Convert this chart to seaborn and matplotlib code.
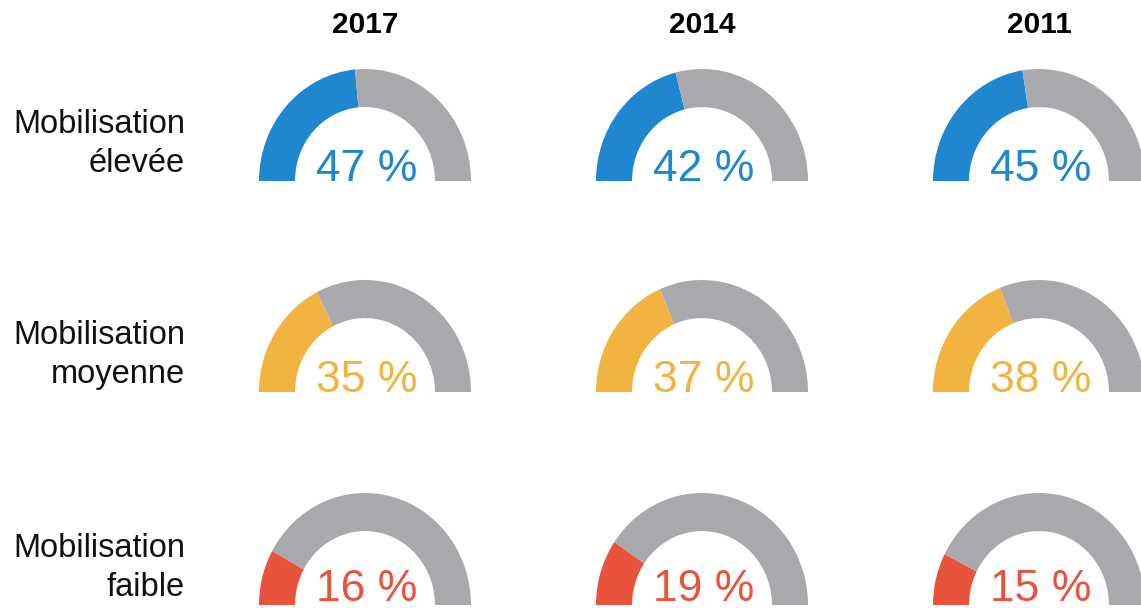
import seaborn as sns
from matplotlib import pyplot as plt

# values
years = ["2017", "2014", "2011"]
levels = ["Mobilisation\nélevée", "Mobilisation\nmoyenne", "Mobilisation\nfaible"]
eleve = [47, 42, 45]
moyenne = [35, 37, 38]
faible = [16, 19, 15]

colors = ["#1e87cf", "#f2b440", "#e9533b"]
gray = "#a8a9ac"

sns.set_theme(style="white")
plt.rcParams["font.family"] = ["Liberation Sans", "DejaVu Sans"]

W, H = 1141, 608
fig = plt.figure(figsize=(W / 100, H / 100), dpi=100)

col_x = [365, 702, 1039]     # gauge centres (px)
row_base = [181, 392, 605]   # gauge baselines (px from top)
R, RV = 106, 112             # half width / height of a gauge

rows = [eleve, moyenne, faible]
for r, (vals, col) in enumerate(zip(rows, colors)):
    for c, v in enumerate(vals):
        ax = fig.add_axes([(col_x[c] - R) / W, (H - row_base[r]) / H, 2 * R / W, RV / H])
        ax.pie([v, 100 - v, 100], colors=[col, gray, "none"], startangle=180,
               counterclock=False, radius=1,
               wedgeprops=dict(width=0.34, edgecolor="none", linewidth=0))
        ax.set_aspect("auto")
        ax.set_xlim(-1, 1)
        ax.set_ylim(0, 1)
        ax.axis("off")
        # last row sits on the bottom edge: lift its label a little
        ty = 0.035 if r == len(rows) - 1 else 0.0
        ax.text(0.02, ty, f"{v} %", ha="center", va="baseline",
                fontsize=32, color=col)

    # row label, right aligned, two lines
    for i, line in enumerate(levels[r].split("\n")):
        fig.text(185 / W, (H - (row_base[r] - 48 + 39 * i)) / H, line,
                 ha="right", va="baseline", fontsize=23.5, color="#111111")

for c, y in enumerate(years):
    fig.text(col_x[c] / W, (H - 33) / H, y, ha="center", va="baseline",
             fontsize=21.5, fontweight="bold", color="#000000")

fig.savefig("out.png", dpi=100, facecolor="white")
